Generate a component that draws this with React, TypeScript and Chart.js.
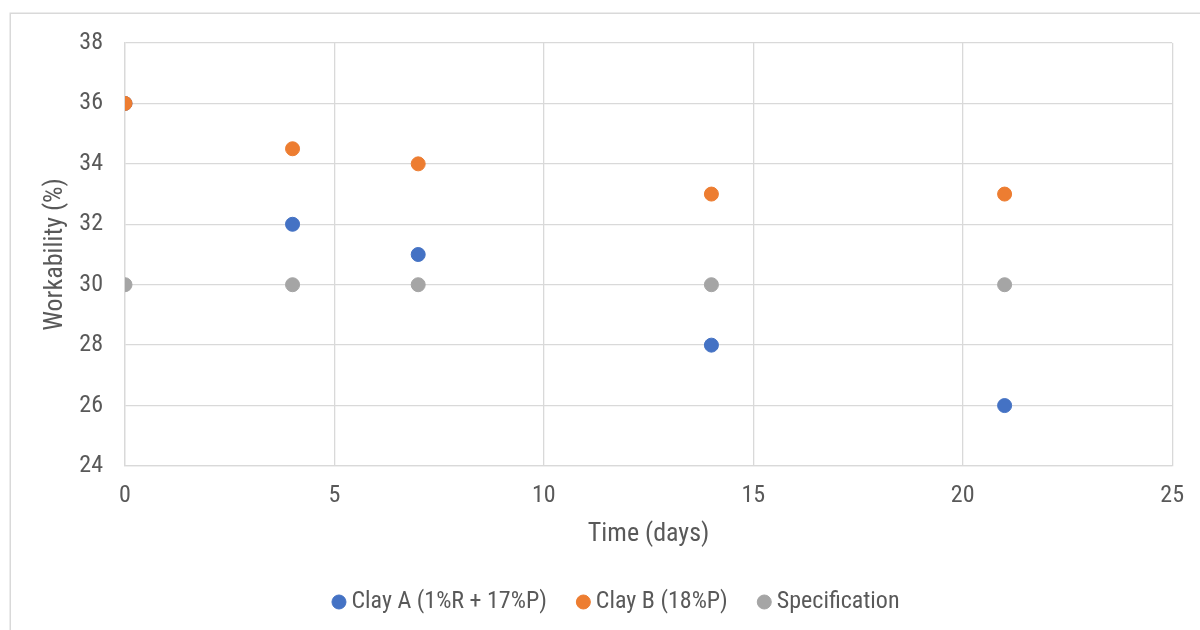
import React, { useEffect, useRef } from "react";
import { Chart, registerables } from "chart.js";

Chart.register(...registerables);

const timeDays = [0, 4, 7, 14, 21];
const clayA = [36, 32, 31, 28, 26];
const clayB = [36, 34.5, 34, 33, 33];
const specification = [30, 30, 30, 30, 30];

const seriesNames = ["Clay A (1%R + 17%P)", "Clay B (18%P)", "Specification"];
const seriesColors = ["#4472C4", "#ED7D31", "#A5A5A5"];

const FONT = "Roboto, 'Liberation Sans', Arial, sans-serif";
const STRETCH = "condensed";
const TEXT = "#595959";
const GRID = "#D9D9D9";

const outerBorder = {
  id: "outerBorder",
  beforeDraw(chart: any) {
    const { ctx } = chart;
    ctx.save();
    ctx.fillStyle = "#ffffff";
    ctx.fillRect(0, 0, chart.width, chart.height);
    ctx.strokeStyle = GRID;
    ctx.lineWidth = 1.5;
    ctx.strokeRect(10.25, 13.25, 1300, 700);
    ctx.restore();
  },
};

function toPoints(xs: number[], ys: number[]) {
  return xs.map((x, i) => ({ x, y: ys[i] }));
}

export default function App() {
  const ref = useRef<HTMLCanvasElement>(null);

  useEffect(() => {
    if (!ref.current) return;
    const all = [clayA, clayB, specification];
    const orders = [1, 0, 2];
    const chart = new Chart(ref.current, {
      type: "scatter",
      data: {
        datasets: all.map((vals, i) => ({
          label: seriesNames[i],
          data: toPoints(timeDays, vals),
          backgroundColor: seriesColors[i],
          borderColor: seriesColors[i],
          borderWidth: 1,
          pointRadius: 7,
          pointHoverRadius: 7,
          pointStyle: "circle",
          order: orders[i],
        })),
      },
      options: {
        responsive: false,
        animation: false,
        layout: { padding: { left: 62, right: 24, top: 43, bottom: 6 } },
        plugins: {
          tooltip: { enabled: false },
          legend: {
            position: "bottom",
            labels: {
              usePointStyle: true,
              pointStyle: "circle",
              boxWidth: 1,
              boxHeight: 9.9,
              padding: 36,
              color: TEXT,
              font: { family: FONT, size: 24, weight: STRETCH },
              sort: (a: any, b: any) => a.datasetIndex - b.datasetIndex,
            },
          },
        },
        scales: {
          x: {
            type: "linear",
            min: 0,
            max: 25,
            afterFit: (s: any) => {
              s.height = 88;
            },
            ticks: {
              stepSize: 5,
              padding: 16,
              color: TEXT,
              font: { family: FONT, size: 24, weight: STRETCH },
            },
            grid: { color: GRID, lineWidth: 1.3, drawTicks: false },
            border: { color: GRID, width: 1.3 },
            title: {
              display: true,
              text: "Time (days)",
              color: TEXT,
              font: { family: FONT, size: 26, weight: STRETCH },
              padding: { top: 0, bottom: 4 },
            },
          },
          y: {
            type: "linear",
            min: 24,
            max: 38,
            afterFit: (s: any) => {
              s.width = 63;
            },
            ticks: {
              stepSize: 2,
              padding: 22,
              color: TEXT,
              font: { family: FONT, size: 24, weight: STRETCH },
            },
            grid: { color: GRID, lineWidth: 1.3, drawTicks: false },
            border: { color: GRID, width: 1.3 },
            title: {
              display: true,
              text: "Workability (%)",
              color: TEXT,
              font: { family: FONT, size: 26, weight: STRETCH },
              padding: { top: -22.6, bottom: 0 },
            },
          },
        },
      },
      plugins: [outerBorder],
    });
    return () => chart.destroy();
  }, []);

  return (
    <div style={{ position: "fixed", left: 0, top: 0, width: 1200, height: 630, background: "#fff" }}>
      <canvas ref={ref} width={1200} height={630} style={{ display: "block" }} />
    </div>
  );
}
